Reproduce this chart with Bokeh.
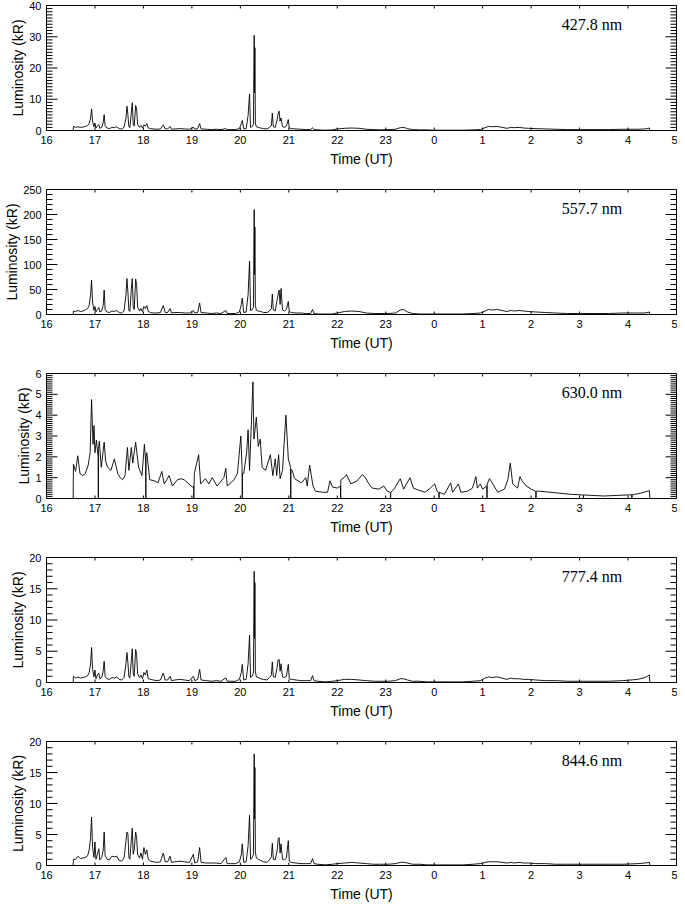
import numpy as np
from bokeh.plotting import figure
from bokeh.models import Range1d, FixedTicker, SingleIntervalTicker, Label
from bokeh.layouts import column
from bokeh.embed import file_html
from bokeh.resources import INLINE

# Time in hours UT, continuing past midnight (24 = 0 UT, 28 = 4 UT)
t_common = [
    16.20, 16.55, 16.556, 16.60, 16.65, 16.70, 16.75, 16.80, 16.85, 16.88,
    16.91, 16.93, 16.95, 16.98, 17.00, 17.02, 17.05, 17.08, 17.10, 17.14,
    17.17, 17.19, 17.21, 17.25, 17.30, 17.35, 17.40, 17.45, 17.50, 17.55,
    17.60, 17.64, 17.66, 17.68, 17.70, 17.72, 17.75, 17.77, 17.79, 17.81,
    17.84, 17.86, 17.88, 17.92, 17.95, 17.98, 18.01, 18.04, 18.07, 18.10,
    18.15, 18.20, 18.28, 18.35, 18.41, 18.45, 18.50, 18.55, 18.58, 18.65,
    18.75, 18.85, 18.95, 19.03, 19.06, 19.12, 19.16, 19.19, 19.30, 19.40,
    19.50, 19.60, 19.70, 19.73, 19.80, 19.90, 19.98, 20.02, 20.04, 20.07,
    20.12, 20.16, 20.19, 20.21, 20.24, 20.27, 20.286, 20.293, 20.30, 20.31,
    20.33, 20.37, 20.42, 20.48, 20.55, 20.60, 20.64, 20.66, 20.68, 20.72,
    20.76, 20.78, 20.80, 20.82, 20.84, 20.87, 20.91, 20.95, 20.99, 21.01,
    21.05, 21.15, 21.25, 21.35, 21.45, 21.49, 21.52, 21.60, 21.75, 21.90,
    22.00, 22.15, 22.30, 22.45, 22.60, 22.75, 22.90, 23.05, 23.20, 23.30,
    23.37, 23.45, 23.55, 23.70, 23.85, 24.00, 24.20, 24.40, 24.60, 24.80,
    24.95, 25.05, 25.12, 25.20, 25.30, 25.40, 25.50, 25.58, 25.65, 25.75,
    25.85, 25.95, 26.10, 26.30, 26.50, 26.75, 27.00, 27.30, 27.60, 27.90,
    28.20, 28.35, 28.44, 28.45, 28.60,
]

lum_4278 = [
    0.0, 0.0, 1.3, 1.0, 1.2, 1.0, 1.1, 1.3, 1.6, 2.2,
    4.0, 6.9, 3.0, 1.2, 2.4, 0.8, 1.5, 1.9, 0.7, 1.0,
    2.5, 5.1, 1.5, 0.8, 0.6, 1.0, 0.9, 1.2, 0.6, 0.5,
    1.0, 4.0, 7.8, 5.0, 1.2, 0.9, 5.5, 8.9, 2.0, 1.4,
    8.0, 6.9, 2.0, 1.0, 1.6, 0.8, 1.8, 1.4, 2.2, 0.8,
    0.6, 0.5, 0.4, 0.5, 1.8, 0.5, 0.5, 1.3, 0.4, 0.5,
    0.6, 0.5, 0.4, 1.1, 0.4, 0.6, 2.2, 0.5, 0.4, 0.3,
    0.4, 0.3, 0.6, 0.3, 0.3, 0.3, 0.6, 2.2, 3.2, 0.5,
    0.6, 4.8, 11.7, 1.0, 1.2, 2.0, 30.5, 12.0, 26.5, 2.4,
    1.2, 1.0, 0.8, 0.6, 0.5, 1.0, 1.5, 5.6, 1.2, 1.0,
    3.5, 5.5, 6.2, 3.0, 4.0, 1.2, 1.0, 1.4, 3.5, 0.8,
    0.6, 0.5, 0.4, 0.3, 0.3, 0.9, 0.3, 0.2, 0.1, 0.2,
    0.5, 0.7, 0.8, 0.7, 0.4, 0.3, 0.2, 0.3, 0.4, 0.9,
    1.0, 0.6, 0.3, 0.2, 0.2, 0.1, 0.1, 0.1, 0.1, 0.2,
    0.3, 0.9, 1.3, 1.2, 1.3, 1.0, 0.7, 1.0, 0.9, 1.0,
    0.8, 0.7, 0.6, 0.5, 0.4, 0.3, 0.3, 0.3, 0.3, 0.4,
    0.4, 0.5, 0.8, 0.0, 0.0,
]

lum_5577 = [
    0, 0, 7, 6, 8, 6, 7, 9, 12, 18,
    40, 69, 25, 8, 16, 5, 10, 14, 5, 7,
    18, 49, 10, 5, 4, 7, 6, 8, 4, 3,
    7, 40, 72, 45, 8, 6, 50, 72, 15, 10,
    71, 60, 15, 7, 12, 6, 16, 12, 18, 6,
    4, 3, 3, 4, 18, 4, 4, 12, 3, 4,
    4, 3, 3, 8, 3, 4, 23, 4, 3, 2,
    3, 2, 8, 2, 2, 2, 5, 20, 33, 4,
    5, 40, 107, 8, 9, 15, 210, 80, 175, 18,
    9, 7, 6, 4, 4, 7, 12, 41, 9, 7,
    30, 40, 49, 20, 52, 9, 7, 10, 26, 6,
    4, 3, 3, 2, 2, 10, 2, 1, 1, 1,
    3, 6, 7, 6, 3, 2, 2, 2, 3, 9,
    10, 5, 2, 1, 1, 1, 1, 1, 1, 2,
    3, 7, 10, 9, 10, 8, 6, 8, 7, 8,
    7, 6, 5, 4, 3, 2, 2, 2, 2, 3,
    3, 3, 5, 0, 0,
]

lum_7774 = [
    0.0, 0.0, 1.0, 0.7, 0.9, 0.7, 0.8, 0.9, 1.1, 1.6,
    3.0, 5.6, 2.2, 0.9, 2.0, 0.6, 1.2, 1.5, 0.6, 0.8,
    1.8, 3.4, 1.0, 0.6, 0.5, 0.8, 0.7, 0.9, 0.5, 0.4,
    0.8, 3.0, 4.8, 3.2, 0.9, 0.7, 3.5, 5.4, 1.4, 1.0,
    5.3, 4.5, 1.4, 0.8, 1.2, 0.6, 1.6, 1.2, 2.0, 0.6,
    0.5, 0.4, 0.3, 0.4, 1.5, 0.4, 0.4, 1.0, 0.3, 0.4,
    0.5, 0.4, 0.3, 1.0, 0.3, 0.5, 2.1, 0.4, 0.3, 0.2,
    0.3, 0.2, 0.75, 0.2, 0.2, 0.2, 0.5, 1.6, 2.9, 0.4,
    0.5, 3.0, 7.6, 0.8, 1.0, 1.5, 17.8, 7.0, 16.0, 1.8,
    0.9, 0.8, 0.6, 0.5, 0.4, 0.8, 1.2, 3.3, 0.9, 0.8,
    2.5, 3.6, 3.7, 1.8, 3.0, 0.9, 0.8, 1.0, 2.9, 0.6,
    0.5, 0.4, 0.3, 0.3, 0.3, 1.1, 0.3, 0.2, 0.1, 0.2,
    0.3, 0.5, 0.5, 0.4, 0.3, 0.2, 0.2, 0.2, 0.3, 0.6,
    0.6, 0.4, 0.2, 0.2, 0.1, 0.1, 0.1, 0.1, 0.1, 0.2,
    0.3, 0.7, 0.9, 0.8, 0.9, 0.7, 0.5, 0.7, 0.6, 0.6,
    0.5, 0.5, 0.4, 0.3, 0.3, 0.2, 0.2, 0.2, 0.2, 0.3,
    0.5, 0.8, 1.2, 0.0, 0.0,
]

lum_8446 = [
    0.0, 0.0, 1.0, 1.0, 1.5, 1.1, 1.2, 1.3, 1.6, 2.5,
    4.5, 7.8, 3.0, 1.3, 3.8, 1.0, 1.8, 2.7, 0.9, 1.3,
    2.5, 5.4, 1.6, 1.0, 0.9, 1.5, 1.4, 1.5, 0.8, 0.7,
    1.2, 4.0, 5.4, 5.1, 1.3, 1.0, 4.0, 6.0, 1.8, 2.5,
    5.4, 4.5, 1.8, 1.2, 2.0, 1.0, 2.9, 1.8, 2.5, 1.0,
    0.7, 0.6, 0.5, 0.6, 2.0, 0.6, 0.6, 1.5, 0.5, 0.6,
    0.7, 0.6, 0.5, 1.8, 0.4, 0.6, 2.9, 0.5, 0.4, 0.4,
    0.4, 0.3, 1.3, 0.3, 0.3, 0.3, 0.6, 1.8, 3.5, 0.5,
    0.6, 3.2, 8.1, 1.0, 1.2, 1.8, 18.0, 7.5, 15.8, 2.2,
    1.2, 1.0, 0.8, 0.6, 0.5, 0.9, 1.4, 3.6, 1.0, 0.9,
    2.5, 4.2, 4.5, 2.0, 3.5, 1.0, 0.9, 1.2, 4.0, 0.7,
    0.5, 0.4, 0.3, 0.3, 0.3, 1.1, 0.3, 0.2, 0.1, 0.2,
    0.3, 0.4, 0.5, 0.4, 0.3, 0.2, 0.2, 0.2, 0.3, 0.5,
    0.5, 0.4, 0.2, 0.2, 0.1, 0.1, 0.1, 0.1, 0.1, 0.2,
    0.3, 0.5, 0.6, 0.6, 0.6, 0.5, 0.4, 0.5, 0.4, 0.5,
    0.4, 0.4, 0.3, 0.3, 0.2, 0.2, 0.2, 0.2, 0.2, 0.2,
    0.3, 0.4, 0.5, 0.0, 0.0,
]

# 630.0 nm: (time, luminosity) pairs, with the short hourly data gaps
obs_6300 = [
    (16.20, 0.0), (16.55, 0.0), (16.556, 1.65), (16.60, 1.3), (16.645, 2.05),
    (16.69, 1.2), (16.75, 1.1), (16.80, 1.2), (16.86, 1.6), (16.90, 2.2),
    (16.93, 4.75), (16.96, 2.6), (16.98, 3.5), (17.00, 2.2), (17.03, 2.8),
    (17.065, 2.0), (17.07, 0.0), (17.075, 2.4), (17.09, 2.75), (17.13, 1.5),
    (17.19, 2.7), (17.22, 1.8), (17.26, 1.5), (17.33, 1.35), (17.40, 1.9),
    (17.44, 1.5), (17.47, 1.2), (17.52, 1.0), (17.57, 0.9), (17.62, 1.1),
    (17.67, 2.45), (17.70, 1.35), (17.75, 2.45), (17.78, 1.7), (17.84, 2.7),
    (17.90, 1.5), (17.97, 1.1), (18.02, 2.6), (18.045, 1.8), (18.05, 0.0),
    (18.055, 2.0), (18.07, 2.2), (18.13, 0.9), (18.23, 0.85), (18.30, 0.75),
    (18.38, 1.3), (18.43, 0.7), (18.53, 1.1), (18.60, 0.6), (18.70, 0.9),
    (18.78, 0.95), (18.84, 0.9), (18.94, 0.7), (19.01, 0.55), (19.035, 0.6),
    (19.04, 0.0), (19.045, 0.6), (19.05, 1.2), (19.14, 2.1), (19.18, 0.7),
    (19.28, 0.95), (19.35, 0.7), (19.42, 1.0), (19.52, 0.6), (19.66, 1.0),
    (19.70, 1.45), (19.73, 0.6), (19.87, 0.9), (19.94, 1.2), (20.01, 3.0),
    (20.035, 1.5), (20.04, 0.0), (20.045, 1.2), (20.07, 1.2), (20.13, 2.2),
    (20.16, 3.3), (20.19, 1.35), (20.26, 5.6), (20.28, 2.85), (20.33, 3.9),
    (20.37, 2.5), (20.41, 2.85), (20.45, 1.5), (20.52, 1.35), (20.62, 2.1),
    (20.67, 1.1), (20.72, 1.9), (20.75, 1.1), (20.79, 2.1), (20.82, 0.95),
    (20.87, 1.35), (20.94, 4.0), (20.99, 1.9), (21.035, 1.5), (21.04, 0.0),
    (21.045, 1.4), (21.07, 1.35), (21.12, 0.95), (21.26, 0.75), (21.35, 1.0),
    (21.38, 0.6), (21.43, 1.6), (21.50, 0.6), (21.55, 0.35), (21.70, 0.3),
    (21.80, 0.3), (21.85, 0.85), (21.90, 0.55), (22.00, 0.5), (22.065, 0.6),
    (22.07, 0.0), (22.075, 0.9), (22.14, 1.0), (22.19, 1.15), (22.28, 0.7),
    (22.41, 0.85), (22.52, 1.15), (22.58, 1.0), (22.64, 0.75), (22.72, 0.5),
    (22.86, 0.45), (22.96, 0.6), (23.03, 0.35), (23.095, 0.3), (23.10, 0.0),
    (23.105, 0.3), (23.17, 0.45), (23.30, 0.95), (23.37, 0.45), (23.50, 1.0),
    (23.57, 0.5), (23.68, 0.4), (23.81, 0.3), (23.92, 0.5), (24.01, 0.7),
    (24.06, 0.35), (24.095, 0.3), (24.10, 0.0), (24.105, 0.3), (24.21, 0.2),
    (24.34, 0.75), (24.38, 0.3), (24.50, 0.7), (24.55, 0.3), (24.69, 0.35),
    (24.79, 0.5), (24.86, 1.05), (24.89, 0.5), (24.95, 0.7), (25.00, 0.45),
    (25.085, 0.6), (25.09, 0.0), (25.095, 0.7), (25.14, 0.95), (25.21, 0.7),
    (25.31, 0.3), (25.45, 0.45), (25.52, 0.9), (25.57, 1.7), (25.62, 0.7),
    (25.72, 0.5), (25.77, 1.05), (25.81, 0.85), (25.90, 0.6), (26.00, 0.45),
    (26.095, 0.35), (26.10, 0.0), (26.105, 0.35), (26.17, 0.35), (26.48, 0.28),
    (26.82, 0.2), (27.075, 0.17), (27.08, 0.0), (27.085, 0.17), (27.50, 0.12),
    (28.075, 0.18), (28.08, 0.0), (28.085, 0.18), (28.26, 0.25), (28.44, 0.38),
    (28.45, 0.0), (28.63, 0.0),
]
t_6300 = [p[0] for p in obs_6300]
lum_6300 = [p[1] for p in obs_6300]

x_ticks = list(range(16, 30))
x_tick_labels = [str(h % 24) for h in x_ticks]

panels = [
    ("427.8 nm", t_common, lum_4278, 40, 10, 10),
    ("557.7 nm", t_common, lum_5577, 250, 50, 5),
    ("630.0 nm", t_6300, lum_6300, 6, 1, 10),
    ("777.4 nm", t_common, lum_7774, 20, 5, 5),
    ("844.6 nm", t_common, lum_8446, 20, 5, 5),
]

SANS = "Liberation Sans"
SERIF = "Liberation Serif"
X0, X1 = 16, 29


def style_axis(ax, ticker, label):
    ax.ticker = ticker
    ax.major_tick_in = 0
    ax.major_tick_out = 0
    ax.minor_tick_in = 0
    ax.minor_tick_out = 0
    ax.axis_line_color = "black"
    ax.major_label_text_font = SANS
    ax.major_label_text_font_size = "11px"
    ax.major_label_text_color = "black"
    ax.axis_label = label
    ax.axis_label_text_font = SANS
    ax.axis_label_text_font_size = "14px"
    ax.axis_label_text_font_style = "normal"
    ax.axis_label_text_color = "black"


figs = []
for i, (name, t, v, ymax, major, nminor) in enumerate(panels):
    last = i == len(panels) - 1
    height = 168 if last else 184
    bottom = 38 if last else 54
    p = figure(width=677, height=height,
               x_range=Range1d(X0, X1), y_range=Range1d(0, ymax),
               output_backend="svg", toolbar_location=None,
               min_border_left=46, min_border_right=1,
               min_border_top=5, min_border_bottom=bottom,
               background_fill_color="white", border_fill_color="white")
    p.grid.visible = False
    p.outline_line_color = "black"
    p.outline_line_width = 1

    xa = p.xaxis[0]
    style_axis(xa, FixedTicker(ticks=x_ticks), "Time (UT)")
    xa.major_label_overrides = dict(zip(x_ticks, x_tick_labels))
    xa.major_label_standoff = 5
    xa.axis_label_standoff = 4

    ya = p.yaxis[0]
    style_axis(ya, SingleIntervalTicker(interval=major, num_minor_ticks=nminor),
               "Luminosity (kR)")
    ya.major_label_standoff = 5
    ya.axis_label_standoff = 0

    # inward tick marks on all four sides (IDL style)
    y_major = np.arange(0, ymax + 1e-9, major)
    y_minor = np.arange(0, ymax + 1e-9, major / nminor)
    y_minor = [y for y in y_minor if abs(y / major - round(y / major)) > 1e-6]
    tick_kw = dict(length_units="screen", line_color="black", line_width=1)
    p.ray(x=[X0] * len(y_major), y=y_major, length=11, angle=0, **tick_kw)
    p.ray(x=[X0] * len(y_minor), y=y_minor, length=6, angle=0, **tick_kw)
    p.ray(x=[X1] * len(y_major), y=y_major, length=11, angle=np.pi, **tick_kw)
    p.ray(x=[X1] * len(y_minor), y=y_minor, length=6, angle=np.pi, **tick_kw)
    p.ray(x=x_ticks, y=[0] * len(x_ticks), length=3, angle=np.pi / 2, **tick_kw)
    p.ray(x=x_ticks, y=[ymax] * len(x_ticks), length=3, angle=-np.pi / 2, **tick_kw)

    p.line(t, v, line_color="black", line_width=0.9)

    p.add_layout(Label(x=26.63, y=ymax * 0.85, text=name,
                       text_font=SERIF, text_font_size="16px",
                       text_color="black", text_align="left",
                       text_baseline="middle"))
    figs.append(p)

layout = column(*figs, spacing=0)
open("out.html", "w").write(file_html(layout, INLINE))
